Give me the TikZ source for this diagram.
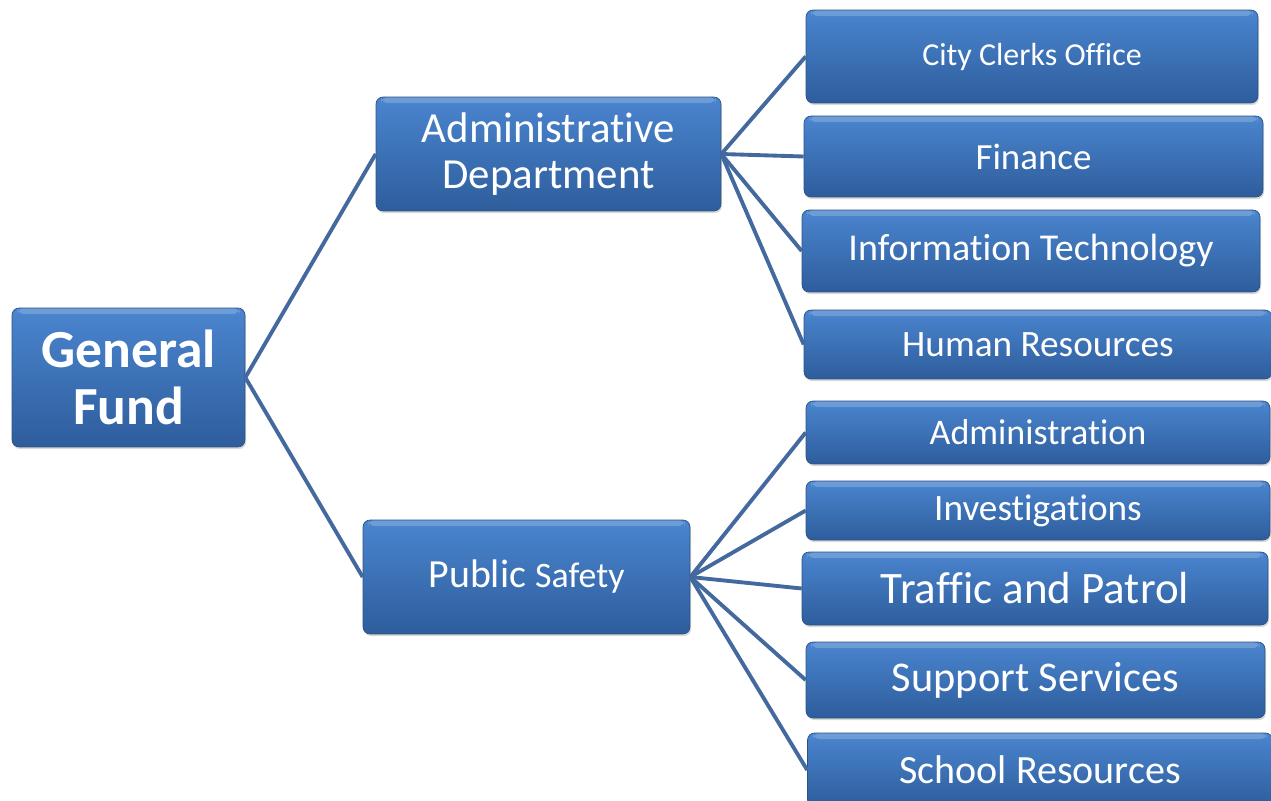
\documentclass[tikz,border=0pt]{standalone}
\usepackage{fontspec}
\setmainfont{Carlito}[Ligatures={NoCommon}]
\usetikzlibrary{positioning,shadows}
\definecolor{boxtop}{HTML}{4A85CF}
\definecolor{boxmid}{HTML}{3A71BA}
\definecolor{boxbot}{HTML}{2E5D9C}
\definecolor{boxline}{HTML}{2C5283}
\definecolor{linkblue}{HTML}{43699E}
\newcommand{\fs}[1]{\fontsize{#1}{1.1\dimexpr#1pt\relax}\selectfont}

\begin{document}
\begin{tikzpicture}[x=0.02cm, y=-0.02cm,
  unit/.style={rectangle, rounded corners=4pt, draw=boxline, line width=0.4pt,
    top color=boxtop, middle color=boxmid, bottom color=boxbot,
    text=white, align=center, inner sep=0pt,
    drop shadow={shadow xshift=0.6pt, shadow yshift=-1.2pt, opacity=0.3},
    path picture={\fill[white, opacity=0.2]
      ([xshift=3pt]path picture bounding box.north west) rectangle
      ([xshift=-3pt, yshift=-3.5pt]path picture bounding box.north east);}},
  link/.style={draw=linkblue, line width=2.2pt}]
  \useasboundingbox (0,0) rectangle (1271,801);
  \clip (0,0) rectangle (1271,801);

  % root and the two departments
  \node[unit, minimum width=4.66cm, minimum height=2.78cm, font=\bfseries\fontsize{30.5}{32.5}\selectfont]
    (gf) at (128.5,377.5) {General\\Fund};
  \node[unit, minimum width=6.9cm, minimum height=2.28cm, font=\fontsize{24.4}{26.6}\selectfont]
    (admdep) at (548.5,154) {Administrative\\Department};
  \node[unit, minimum width=6.54cm, minimum height=2.28cm]
    (pubsaf) at (526.5,577) {\fs{22.7}Public \fs{20.4}Safety};

  % administrative units
  \node[unit, minimum width=9.04cm, minimum height=1.86cm] (clerks) at (1032,56.5) {\fs{18.2}City Clerks Office};
  \node[unit, minimum width=9.18cm, minimum height=1.62cm] (finance) at (1033.5,156.5) {\fs{21}Finance};
  \node[unit, minimum width=9.16cm, minimum height=1.64cm] (infotech) at (1031,251) {\fs{21.6}Information Technology};
  \node[unit, minimum width=9.36cm, minimum height=1.38cm] (humres) at (1038,344.5) {\fs{21.2}Human Resources};

  % public safety units
  \node[unit, minimum width=9.28cm, minimum height=1.26cm] (admin) at (1038,432.5) {\fs{20.5}Administration};
  \node[unit, minimum width=9.28cm, minimum height=1.18cm] (invest) at (1038,510.5) {\fs{21.2}Investigations};
  \node[unit, minimum width=9.32cm, minimum height=1.46cm] (traffic) at (1035,588.5) {\fs{25.6}Traffic and Patrol};
  \node[unit, minimum width=9.18cm, minimum height=1.52cm] (support) at (1035.5,680) {\fs{24.1}Support Services};
  \node[unit, minimum width=9.3cm, minimum height=1.48cm] (school) at (1040,770) {\fs{22.8}School Resources};

  % connectors
  \draw[link] (gf.east) -- (admdep.west);
  \draw[link] (gf.east) -- (pubsaf.west);
  \foreach \n in {clerks,finance,infotech,humres}
    \draw[link] (admdep.east) -- (\n.west);
  \foreach \n in {admin,invest,traffic,support,school}
    \draw[link] (pubsaf.east) -- (\n.west);
\end{tikzpicture}
\end{document}
